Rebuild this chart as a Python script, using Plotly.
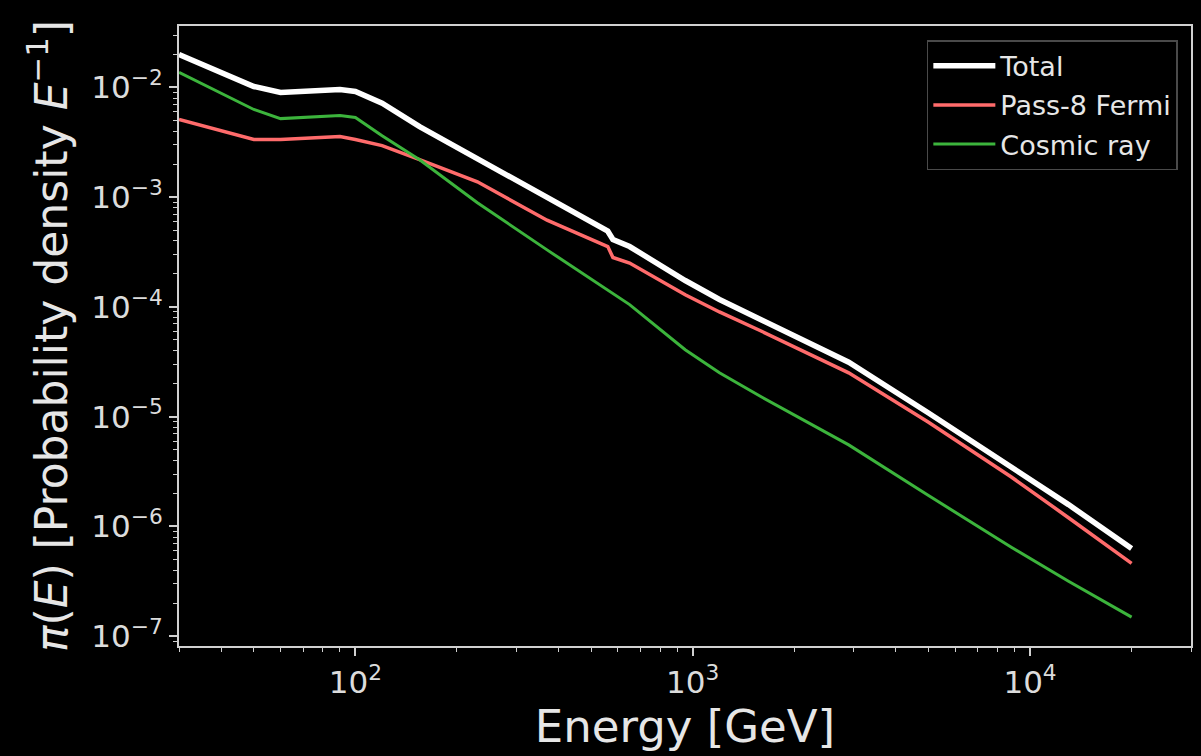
import plotly.graph_objects as go

# Energy grid [GeV]
energy = [30, 50, 60, 90, 100, 120, 155, 230, 370, 560, 580, 650,
          950, 1200, 1600, 2900, 5000, 8800, 13000, 20000]

# Probability density per unit energy for each component
total = [2.0e-2, 1.02e-2, 9.0e-3, 9.6e-3, 9.2e-3, 7.2e-3, 4.4e-3, 2.24e-3,
         1.02e-3, 4.9e-4, 4.12e-4, 3.55e-4, 1.74e-4, 1.17e-4, 7.6e-5,
         3.13e-5, 1.08e-5, 3.47e-6, 1.58e-6, 6.3e-7]
fermi = [5.1e-3, 3.36e-3, 3.36e-3, 3.57e-3, 3.36e-3, 2.95e-3, 2.2e-3, 1.38e-3,
         6.17e-4, 3.55e-4, 2.82e-4, 2.51e-4, 1.29e-4, 9.0e-5, 6.0e-5,
         2.51e-5, 8.9e-6, 2.82e-6, 1.2e-6, 4.6e-7]
cosmic = [1.37e-2, 6.3e-3, 5.2e-3, 5.56e-3, 5.32e-3, 3.63e-3, 2.19e-3, 8.9e-4,
          3.31e-4, 1.41e-4, 1.32e-4, 1.05e-4, 4.07e-5, 2.51e-5, 1.51e-5,
          5.53e-6, 1.91e-6, 6.46e-7, 3.16e-7, 1.49e-7]

x_ticks = [100, 1000, 10000]
x_tick_text = ["10<sup>2</sup>", "10<sup>3</sup>", "10<sup>4</sup>"]
y_ticks = [1e-7, 1e-6, 1e-5, 1e-4, 1e-3, 1e-2]
y_tick_text = ["10<sup>\u22127</sup>", "10<sup>\u22126</sup>", "10<sup>\u22125</sup>",
               "10<sup>\u22124</sup>", "10<sup>\u22123</sup>", "10<sup>\u22122</sup>"]

def minor_log(lo, hi):
    vals = []
    for d in range(lo, hi + 1):
        for m in range(2, 10):
            vals.append(m * 10.0 ** d)
    return vals

fig = go.Figure()
fig.add_trace(go.Scatter(x=energy, y=total, mode="lines", name="Total",
                         legendgroup="a", line=dict(color="#ffffff", width=5.5)))
fig.add_trace(go.Scatter(x=energy, y=fermi, mode="lines", name="Pass-8 Fermi",
                         legendgroup="b", line=dict(color="#ff6b6b", width=3.5)))
fig.add_trace(go.Scatter(x=energy, y=cosmic, mode="lines", name="Cosmic ray",
                         legendgroup="c", line=dict(color="#3cb43c", width=3)))

axis_color = "#d0d0d0"
font_family = "DejaVu Sans"

fig.update_layout(
    width=1201, height=756,
    margin=dict(l=179, r=8, t=26, b=110),
    paper_bgcolor="#000000", plot_bgcolor="#000000",
    font=dict(family=font_family, color="#e0e0e0"),
    showlegend=True,
    legend=dict(
        x=0.987, y=0.977, xanchor="right", yanchor="top",
        bgcolor="#000000", bordercolor="#4a4a4a", borderwidth=1.5,
        font=dict(size=27, color="#e6e6e6", family=font_family),
        itemwidth=62, tracegroupgap=1, traceorder="grouped",
    ),
    xaxis=dict(
        type="log", range=[1.4771, 4.4771],
        tickmode="array", tickvals=x_ticks, ticktext=x_tick_text,
        ticks="outside", ticklen=8, tickwidth=1.5, tickcolor=axis_color,
        tickfont=dict(size=31, color="#dcdcdc"),
        minor=dict(tickmode="array", tickvals=minor_log(1, 4), ticks="outside",
                   ticklen=4, tickwidth=1.2, tickcolor=axis_color, showgrid=False),
        showgrid=False, zeroline=False,
        showline=True, linecolor=axis_color, linewidth=2, mirror=True,
        title=dict(text="Energy [GeV]", font=dict(size=45, color="#e6e6e6"), standoff=6),
    ),
    yaxis=dict(
        type="log", range=[-7.09, -1.44],
        tickmode="array", tickvals=y_ticks, ticktext=y_tick_text,
        ticks="outside", ticklen=8, tickwidth=1.5, tickcolor=axis_color,
        tickfont=dict(size=31, color="#dcdcdc"),
        minor=dict(tickmode="array", tickvals=minor_log(-8, -2), ticks="outside",
                   ticklen=4, tickwidth=1.2, tickcolor=axis_color, showgrid=False),
        showgrid=False, zeroline=False,
        showline=True, linecolor=axis_color, linewidth=2, mirror=True,
        title=dict(text="<i>\u03c0</i>(<i>E</i>) [Probability density <i>E</i><sup>\u22121</sup>]",
                   font=dict(size=44, color="#e6e6e6"), standoff=10),
    ),
)

fig.write_html("out.html")
